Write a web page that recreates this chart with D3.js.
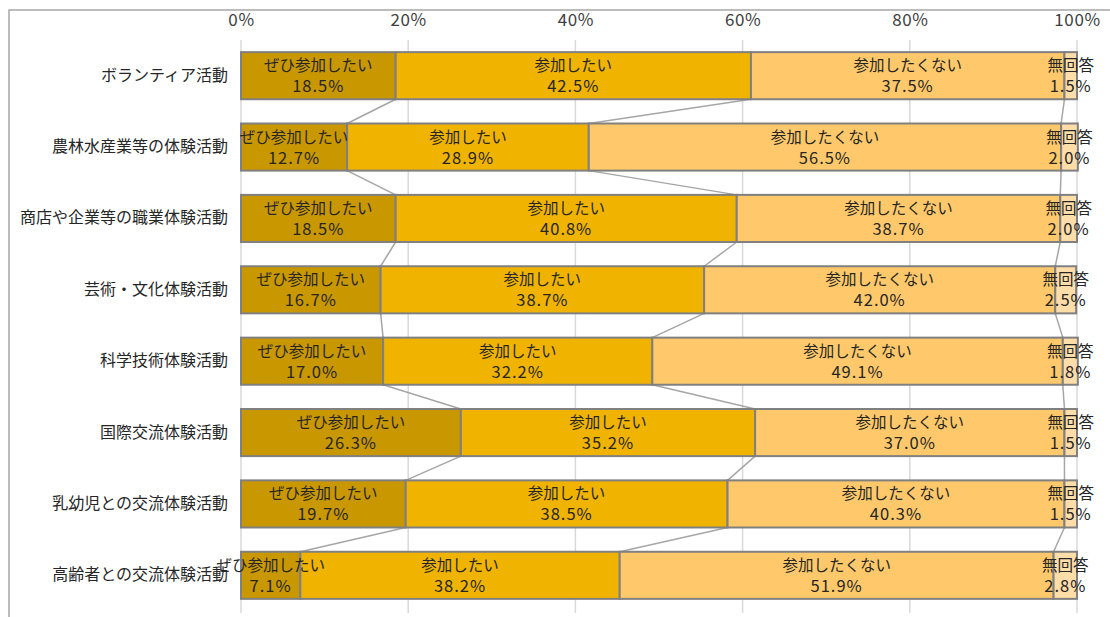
<!DOCTYPE html>
<html>
<head>
<meta charset="utf-8">
<script src="https://cdn.jsdelivr.net/npm/d3@7"></script>
<style>
  body { margin: 0; background: #fff; }
  svg { font-family: "Noto Sans CJK JP", "Noto Sans", sans-serif; }
</style>
</head>
<body>
<svg id="chart" width="1110" height="617"></svg>
<script>
// categories (top to bottom)
const categories = [
  'ボランティア活動',
  '農林水産業等の体験活動',
  '商店や企業等の職業体験活動',
  '芸術・文化体験活動',
  '科学技術体験活動',
  '国際交流体験活動',
  '乳幼児との交流体験活動',
  '高齢者との交流体験活動'
];

const seriesNames = ['ぜひ参加したい', '参加したい', '参加したくない', '無回答'];

// values in percent
const zehi = [18.5, 12.7, 18.5, 16.7, 17.0, 26.3, 19.7, 7.1];
const sanka = [42.5, 28.9, 40.8, 38.7, 32.2, 35.2, 38.5, 38.2];
const shitakunai = [37.5, 56.5, 38.7, 42.0, 49.1, 37.0, 40.3, 51.9];
const mukaitou = [1.5, 2.0, 2.0, 2.5, 1.8, 1.5, 1.5, 2.8];

const tickValues = [0, 20, 40, 60, 80, 100];

const colors = ['#C99700', '#F0B400', '#FFC96B', '#FFDDA8'];

(function() {
  const svg = d3.select('#chart');
  const margin = {left: 241, right: 33, top: 40, bottom: 6};
  const width = 1110, height = 617;

  // outer frame
  svg.append('rect').attr('x', 9).attr('y', 10).attr('width', 1110).attr('height', 620)
    .attr('fill', 'none').attr('stroke', '#a6a6a6').attr('stroke-width', 1.5);

  const x = d3.scaleLinear().domain([0, 100]).range([margin.left, width - margin.right]);
  const y = d3.scaleBand().domain(categories).range([margin.top, height - margin.bottom]).paddingInner(0.34).paddingOuter(0.17);

  const rows = categories.map((c, i) => {
    const vals = [zehi[i], sanka[i], shitakunai[i], mukaitou[i]];
    let acc = 0;
    return vals.map((v, k) => {
      const seg = {cat: c, name: seriesNames[k], value: v, x0: acc, x1: acc + v, k: k};
      acc += v;
      return seg;
    });
  });

  // gridlines
  svg.append('g').selectAll('line').data(tickValues).enter().append('line')
    .attr('x1', d => x(d)).attr('x2', d => x(d))
    .attr('y1', margin.top).attr('y2', height - 4)
    .attr('stroke', '#d9d9d9').attr('stroke-width', 1.5);

  // top axis
  const axis = svg.append('g').attr('transform', `translate(0,${margin.top})`)
    .call(d3.axisTop(x).tickValues(tickValues).tickSize(0).tickPadding(14).tickFormat(d => d + '%'));
  axis.select('.domain').remove();
  axis.selectAll('text').attr('font-size', 17).attr('fill', '#404040')
    .attr('letter-spacing', 0.6)
    .attr('font-family', '"Noto Sans CJK JP", sans-serif');

  // series lines between bars
  const lineG = svg.append('g');
  for (let i = 0; i < rows.length - 1; i++) {
    for (let k = 0; k < 3; k++) {
      lineG.append('line')
        .attr('x1', x(rows[i][k].x1)).attr('y1', y(categories[i]) + y.bandwidth())
        .attr('x2', x(rows[i + 1][k].x1)).attr('y2', y(categories[i + 1]))
        .attr('stroke', '#a6a6a6').attr('stroke-width', 1.5);
    }
  }

  // bars
  const barG = svg.append('g').selectAll('g').data(rows).enter().append('g')
    .attr('transform', (d, i) => `translate(0,${y(categories[i])})`);

  barG.selectAll('rect').data(d => d).enter().append('rect')
    .attr('x', d => x(d.x0))
    .attr('width', d => x(d.x1) - x(d.x0))
    .attr('height', y.bandwidth())
    .attr('fill', d => colors[d.k])
    .attr('stroke', '#808080').attr('stroke-width', 2);

  const labels = barG.selectAll('text.lbl').data(d => d).enter().append('text')
    .attr('class', 'lbl')
    .attr('x', d => (x(d.x0) + x(d.x1)) / 2)
    .attr('text-anchor', 'middle')
    .attr('font-size', 15.5).attr('fill', '#262626');
  labels.append('tspan').attr('x', d => (x(d.x0) + x(d.x1)) / 2).attr('y', 19).text(d => d.name);
  labels.append('tspan').attr('x', d => (x(d.x0) + x(d.x1)) / 2).attr('y', 40)
    .attr('font-size', 16.5).attr('letter-spacing', 1).text(d => d.value.toFixed(1) + '%');

  // category labels
  svg.append('g').selectAll('text').data(categories).enter().append('text')
    .attr('x', 228).attr('y', d => y(d) + y.bandwidth() / 2 + 5)
    .attr('text-anchor', 'end').attr('font-size', 16).attr('fill', '#262626')
    .text(d => d);
})();
</script>
</body>
</html>
